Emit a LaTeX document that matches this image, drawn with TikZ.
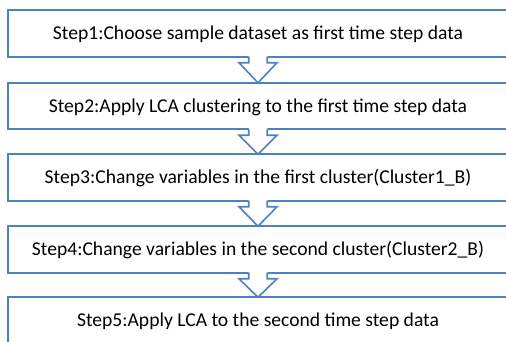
\documentclass[tikz,border=0pt]{standalone}
\usepackage{fontspec}
\setmainfont{Carlito}
\definecolor{boxblue}{RGB}{79,129,189}
\begin{document}
\begin{tikzpicture}[x=1pt,y=-1pt,
  stepbox/.style={draw=boxblue, line width=1.6pt, fill=white,
    minimum width=500pt, minimum height=46.5pt, inner sep=0pt, outer sep=0pt,
    font=\fontsize{19.6}{22}\selectfont, text height=12.5pt, text depth=0pt},
  arrowline/.style={draw=boxblue, line width=1.6pt}]
\useasboundingbox (0,0) rectangle (506,341);
\clip (0,0) rectangle (506,341);
\node[stepbox] (s1) at (258,33.5) {Step1:Choose sample dataset as first time step data};
\node[stepbox] (s2) at (258,106) {Step2:Apply LCA clustering to the first time step data};
\node[stepbox] (s3) at (258,177.5) {Step3:Change variables in the first cluster(Cluster1\_B)};
\node[stepbox] (s4) at (258,249.5) {Step4:Change variables in the second cluster(Cluster2\_B)};
\node[stepbox] (s5) at (258,320.5) {Step5:Apply LCA to the second time step data};
\foreach \a/\b in {s1/s2,s2/s3,s3/s4,s4/s5}{
  \fill[white] ([xshift=-9.25pt,yshift=1.2pt]\a.south) -- ([xshift=-9.25pt,yshift=-6pt]\a.south)
     -- ([xshift=-19pt,yshift=-6pt]\a.south) -- (\b.north)
     -- ([xshift=19pt,yshift=-6pt]\a.south) -- ([xshift=9.25pt,yshift=-6pt]\a.south)
     -- ([xshift=9.25pt,yshift=1.2pt]\a.south) -- cycle;
  \draw[arrowline] ([xshift=-9.25pt]\a.south) -- ([xshift=-9.25pt,yshift=-6pt]\a.south)
     -- ([xshift=-19pt,yshift=-6pt]\a.south) -- (\b.north)
     -- ([xshift=19pt,yshift=-6pt]\a.south) -- ([xshift=9.25pt,yshift=-6pt]\a.south)
     -- ([xshift=9.25pt]\a.south);
}
\end{tikzpicture}
\end{document}
